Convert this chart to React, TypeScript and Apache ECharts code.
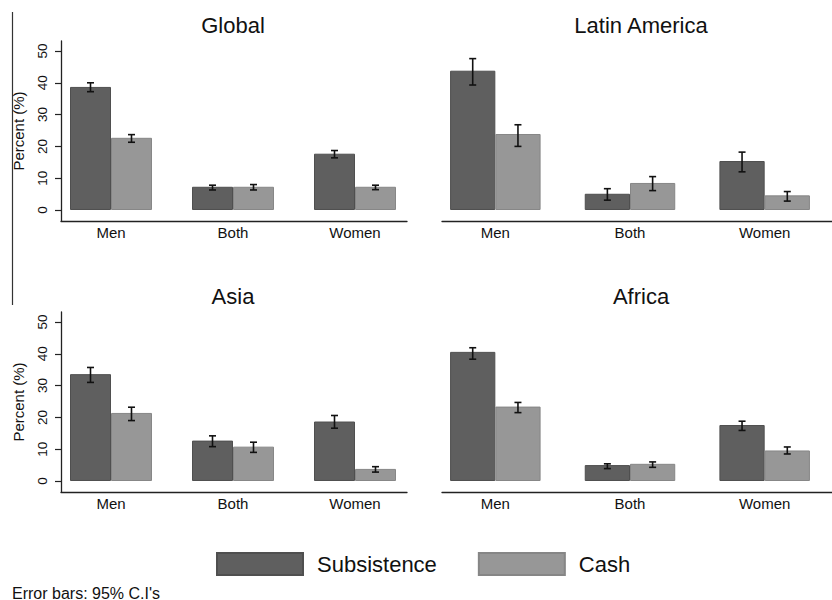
import React, { useEffect, useRef } from "react";
import * as echarts from "echarts";

const categories = ["Men", "Both", "Women"];
const seriesNames = ["Subsistence", "Cash"];
const panelTitles = ["Global", "Latin America", "Asia", "Africa"];
const yTickValues = [0, 10, 20, 30, 40, 50];

const globalSubsistence = [38.7, 7.3, 17.7];
const globalSubsistenceCI = [[37.2, 40.0], [6.3, 7.8], [16.4, 18.7]];
const globalCash = [22.7, 7.3, 7.3];
const globalCashCI = [[21.3, 23.7], [6.3, 8.0], [6.4, 7.8]];

const latinSubsistence = [43.8, 5.1, 15.4];
const latinSubsistenceCI = [[39.3, 47.6], [3.1, 6.7], [12.0, 18.2]];
const latinCash = [23.9, 8.5, 4.6];
const latinCashCI = [[20.0, 26.8], [6.1, 10.5], [2.8, 5.8]];

const asiaSubsistence = [33.6, 12.7, 18.7];
const asiaSubsistenceCI = [[31.0, 35.7], [10.8, 14.2], [16.6, 20.6]];
const asiaCash = [21.4, 10.8, 3.8];
const asiaCashCI = [[19.0, 23.2], [9.0, 12.2], [2.8, 4.5]];

const africaSubsistence = [40.6, 5.0, 17.6];
const africaSubsistenceCI = [[38.3, 41.9], [3.9, 5.4], [15.9, 18.8]];
const africaCash = [23.4, 5.4, 9.6];
const africaCashCI = [[21.5, 24.7], [4.3, 6.0], [8.5, 10.7]];

const panelValues = [
  [globalSubsistence, globalCash],
  [latinSubsistence, latinCash],
  [asiaSubsistence, asiaCash],
  [africaSubsistence, africaCash],
];
const panelCIs = [
  [globalSubsistenceCI, globalCashCI],
  [latinSubsistenceCI, latinCashCI],
  [asiaSubsistenceCI, asiaCashCI],
  [africaSubsistenceCI, africaCashCI],
];

const FONT = "'Liberation Sans', Arial, Helvetica, sans-serif";
const COLORS = ["#5f5f5f", "#979797"];
const BORDERS = ["#4f4f4f", "#868686"];
const BAR_FRAC = 0.336;
const Y_MIN = -3.46;
const Y_MAX = 53.14;

// layout per panel
const layout = [
  { axL: 61, axR: 407, barL: 50, barW: 366, top: 41, showY: true },
  { axL: 442, axR: 832, barL: 428, barW: 426, top: 41, showY: false },
  { axL: 61, axR: 407, barL: 50, barW: 366, top: 312, showY: true },
  { axL: 442, axR: 832, barL: 428, barW: 426, top: 312, showY: false },
];
const PANEL_H = 180;

export default function App() {
  const ref = useRef<HTMLDivElement>(null);
  useEffect(() => {
    if (!ref.current) return;
    const chart = echarts.init(ref.current, null, { renderer: "svg" });
    const grid: any[] = [];
    const xAxis: any[] = [];
    const yAxis: any[] = [];
    const series: any[] = [];
    const graphic: any[] = [];

    layout.forEach((L, p) => {
      // axis grid
      grid.push({ left: L.axL, width: L.axR - L.axL, top: L.top, height: PANEL_H });
      // bars grid
      grid.push({ left: L.barL, width: L.barW, top: L.top, height: PANEL_H });
      const ga = 2 * p;
      const gb = 2 * p + 1;
      xAxis.push({
        type: "value", gridIndex: ga, min: 0, max: 1,
        axisLine: { show: true, onZero: false, lineStyle: { color: "#222", width: 1.3 } },
        axisTick: { show: false }, axisLabel: { show: false }, splitLine: { show: false },
      });
      yAxis.push({
        type: "value", gridIndex: ga, min: Y_MIN, max: Y_MAX, show: L.showY,
        axisLine: { show: true, onZero: false, lineStyle: { color: "#222", width: 1.3 } },
        axisTick: { show: true, length: 6, customValues: yTickValues, lineStyle: { color: "#222", width: 1.2 } },
        axisLabel: {
          show: true, customValues: yTickValues, rotate: 90, margin: 12,
          fontSize: 13.5, color: "#111", fontFamily: FONT,
        },
        splitLine: { show: false },
        name: L.showY ? "Percent (%)" : "",
        nameLocation: "middle", nameGap: 35,
        nameTextStyle: { fontSize: 15, color: "#111", fontFamily: FONT },
      });
      xAxis.push({
        type: "category", gridIndex: gb, data: categories,
        axisLine: { show: false }, axisTick: { show: false },
        axisLabel: { fontSize: 15, color: "#111", fontFamily: FONT, margin: 4 },
      });
      yAxis.push({ type: "value", gridIndex: gb, min: Y_MIN, max: Y_MAX, show: false });

      seriesNames.forEach((nm, s) => {
        series.push({
          type: "bar", name: nm, xAxisIndex: gb, yAxisIndex: gb,
          data: panelValues[p][s],
          barWidth: (BAR_FRAC * 100).toFixed(1) + "%", barGap: "0%",
          itemStyle: { color: COLORS[s], borderColor: BORDERS[s], borderWidth: 1 },
          z: 2,
        });
      });
      seriesNames.forEach((nm, s) => {
        const sign = s === 0 ? -1 : 1;
        series.push({
          type: "custom", name: nm + " CI", xAxisIndex: gb, yAxisIndex: gb,
          data: panelCIs[p][s].map((ci, i) => [i, ci[0], ci[1]]),
          encode: { x: 0, y: [1, 2] },
          z: 5,
          renderItem: (params: any, api: any) => {
            const xi = api.value(0);
            const lo = api.coord([xi, api.value(1)]);
            const hi = api.coord([xi, api.value(2)]);
            const band = api.size([1, 0])[0];
            const cx = lo[0] + sign * band * BAR_FRAC / 2;
            const cap = 3.5;
            const st = { stroke: "#111", lineWidth: 1.6 };
            return {
              type: "group",
              children: [
                { type: "line", shape: { x1: cx, y1: lo[1], x2: cx, y2: hi[1] }, style: st },
                { type: "line", shape: { x1: cx - cap, y1: lo[1], x2: cx + cap, y2: lo[1] }, style: st },
                { type: "line", shape: { x1: cx - cap, y1: hi[1], x2: cx + cap, y2: hi[1] }, style: st },
              ],
            };
          },
        });
      });

      graphic.push({
        type: "text",
        x: L.barL + L.barW / 2,
        y: L.top - 16,
        style: {
          text: panelTitles[p], fontSize: 22, fontFamily: FONT, fill: "#111",
          textAlign: "center", textVerticalAlign: "middle",
        },
      });
    });

    graphic.push({
      type: "line",
      shape: { x1: 12.5, y1: 12, x2: 12.5, y2: 305 },
      style: { stroke: "#333", lineWidth: 1.2 },
    });
    graphic.push({
      type: "text", x: 12, y: 593,
      style: {
        text: "Error bars: 95% C.I's", fontSize: 16, fontFamily: FONT, fill: "#111",
        textAlign: "left", textVerticalAlign: "middle",
      },
    });

    chart.setOption({
      animation: false,
      backgroundColor: "#ffffff",
      textStyle: { fontFamily: FONT },
      grid,
      xAxis,
      yAxis,
      series,
      graphic,
      legend: {
        data: seriesNames,
        left: 216, top: 552,
        padding: 0,
        itemWidth: 86, itemHeight: 22, itemGap: 41,
        icon: "rect",
        textStyle: { fontSize: 22, color: "#111", fontFamily: FONT, padding: [0, 0, 0, 9] },
        selectedMode: false,
      },
    });
    return () => chart.dispose();
  }, []);
  return (
    <div
      ref={ref}
      style={{ position: "fixed", left: 0, top: 0, width: 832, height: 600, background: "#fff" }}
    />
  );
}
